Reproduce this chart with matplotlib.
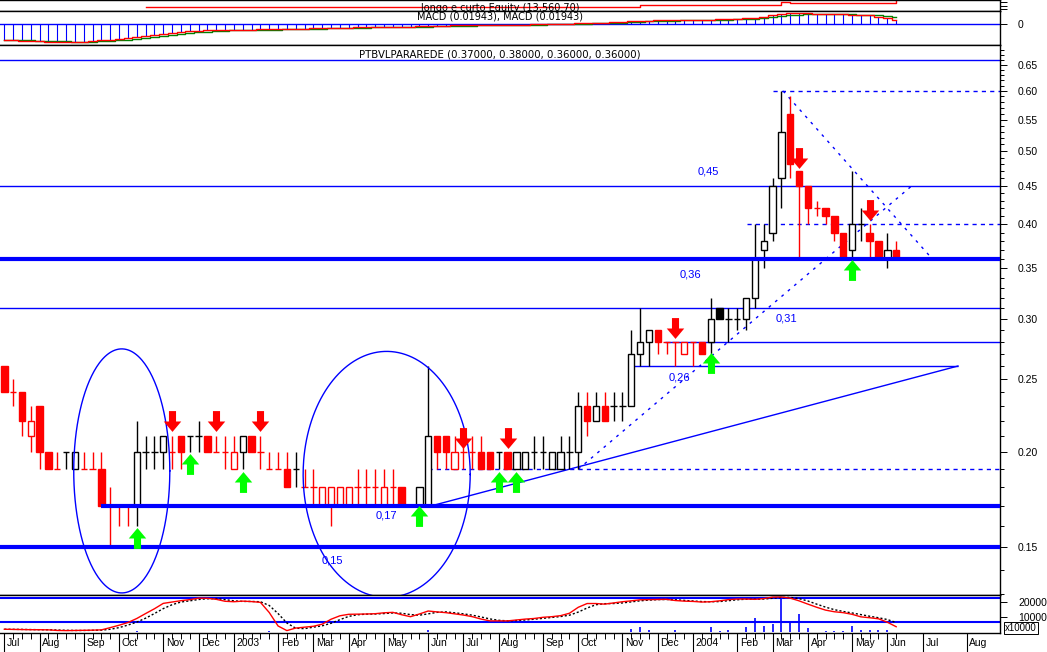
import numpy as np
import matplotlib
matplotlib.use("Agg")
import matplotlib.pyplot as plt
import matplotlib.transforms as mtransforms
from matplotlib.patches import Rectangle
from matplotlib.path import Path

# candles semanais PTBVLPARAREDE, jul/2002 a jun/2004
abertura = [0.26, 0.24, 0.24, 0.21, 0.23, 0.20, 0.19, 0.20, 0.19, 0.19,
            0.19, 0.19, 0.17, 0.17, 0.17, 0.17, 0.20, 0.20, 0.20, 0.20,
            0.21, 0.21, 0.21, 0.21, 0.20, 0.20, 0.19, 0.20, 0.21, 0.20,
            0.19, 0.19, 0.19, 0.19, 0.18, 0.18, 0.17, 0.17, 0.17, 0.17,
            0.18, 0.18, 0.18, 0.17, 0.18, 0.18, 0.17, 0.17, 0.17, 0.21,
            0.21, 0.19, 0.20, 0.20, 0.20, 0.20, 0.20, 0.20, 0.19, 0.19,
            0.20, 0.20, 0.19, 0.19, 0.20, 0.20, 0.23, 0.22, 0.23, 0.23,
            0.23, 0.23, 0.27, 0.28, 0.29, 0.28, 0.28, 0.27, 0.28, 0.28,
            0.28, 0.31, 0.30, 0.30, 0.30, 0.32, 0.37, 0.39, 0.46, 0.56,
            0.47, 0.45, 0.42, 0.42, 0.41, 0.39, 0.37, 0.40, 0.39, 0.38,
            0.36, 0.37]
maxima = [0.26, 0.25, 0.24, 0.23, 0.23, 0.20, 0.20, 0.20, 0.20, 0.20,
          0.20, 0.20, 0.18, 0.17, 0.17, 0.22, 0.21, 0.21, 0.21, 0.21,
          0.21, 0.21, 0.22, 0.21, 0.21, 0.21, 0.21, 0.21, 0.21, 0.21,
          0.20, 0.20, 0.20, 0.20, 0.19, 0.19, 0.18, 0.18, 0.18, 0.18,
          0.19, 0.19, 0.19, 0.19, 0.19, 0.18, 0.17, 0.18, 0.26, 0.21,
          0.21, 0.21, 0.21, 0.21, 0.21, 0.20, 0.20, 0.20, 0.20, 0.20,
          0.21, 0.21, 0.20, 0.21, 0.21, 0.24, 0.24, 0.24, 0.24, 0.24,
          0.24, 0.29, 0.31, 0.29, 0.29, 0.28, 0.28, 0.28, 0.28, 0.28,
          0.32, 0.31, 0.31, 0.31, 0.32, 0.40, 0.40, 0.46, 0.60, 0.59,
          0.47, 0.45, 0.43, 0.42, 0.41, 0.39, 0.47, 0.42, 0.40, 0.38,
          0.39, 0.38]
minima = [0.24, 0.23, 0.21, 0.20, 0.19, 0.19, 0.19, 0.19, 0.19, 0.19,
          0.19, 0.17, 0.15, 0.16, 0.16, 0.16, 0.19, 0.19, 0.19, 0.19,
          0.19, 0.20, 0.20, 0.20, 0.20, 0.19, 0.19, 0.19, 0.20, 0.19,
          0.19, 0.19, 0.18, 0.18, 0.18, 0.17, 0.17, 0.16, 0.17, 0.17,
          0.17, 0.17, 0.17, 0.17, 0.17, 0.17, 0.17, 0.17, 0.17, 0.19,
          0.19, 0.19, 0.19, 0.19, 0.19, 0.19, 0.19, 0.19, 0.19, 0.19,
          0.19, 0.19, 0.19, 0.19, 0.19, 0.19, 0.21, 0.22, 0.22, 0.22,
          0.22, 0.23, 0.26, 0.26, 0.27, 0.27, 0.26, 0.27, 0.26, 0.27,
          0.27, 0.30, 0.28, 0.29, 0.29, 0.31, 0.35, 0.38, 0.42, 0.46,
          0.36, 0.40, 0.41, 0.40, 0.38, 0.36, 0.36, 0.38, 0.36, 0.36,
          0.35, 0.36]
fechamento = [0.24, 0.24, 0.22, 0.22, 0.20, 0.19, 0.19, 0.20, 0.20, 0.19,
              0.19, 0.17, 0.17, 0.17, 0.17, 0.20, 0.20, 0.20, 0.21, 0.20,
              0.20, 0.21, 0.21, 0.20, 0.20, 0.20, 0.20, 0.21, 0.20, 0.20,
              0.19, 0.19, 0.18, 0.19, 0.18, 0.18, 0.18, 0.18, 0.18, 0.18,
              0.18, 0.18, 0.18, 0.18, 0.18, 0.17, 0.17, 0.18, 0.21, 0.20,
              0.20, 0.20, 0.20, 0.20, 0.19, 0.19, 0.20, 0.19, 0.20, 0.20,
              0.20, 0.20, 0.20, 0.20, 0.20, 0.23, 0.22, 0.23, 0.22, 0.23,
              0.23, 0.27, 0.28, 0.29, 0.28, 0.28, 0.28, 0.28, 0.28, 0.27,
              0.30, 0.30, 0.30, 0.30, 0.32, 0.36, 0.38, 0.45, 0.53, 0.48,
              0.45, 0.42, 0.42, 0.41, 0.39, 0.36, 0.40, 0.40, 0.38, 0.36,
              0.37, 0.36]
# R = semana de queda (vermelho), K = semana de alta (preto)
sentido = ("RRRRRRRKKRRRRRRKKKKRRKKRRRRKRRRRRKRRRRRRRRRRRRKKKRRRR"
           "RRRKRKKKKKKKKRKRKKKKKRRRRRRKKKKKKKKKRRRRRRRKKRRKR")

# sinais (semana, preco onde fica a seta)
venda = [(19, 0.220), (24, 0.220), (29, 0.220), (52, 0.209), (57, 0.209),
         (76, 0.292), (90, 0.489), (98, 0.418)]
compra = [(15, 0.154), (21, 0.193), (27, 0.183), (47, 0.165), (56, 0.183),
          (58, 0.183), (80, 0.262), (96, 0.348)]

# eixo de tempo
meses = ["Jul", "Aug", "Sep", "Oct", "Nov", "Dec", "2003", "Feb", "Mar", "Apr",
         "May", "Jun", "Jul", "Aug", "Sep", "Oct", "Nov", "Dec", "2004", "Feb",
         "Mar", "Apr", "May", "Jun", "Jul", "Aug"]
semana_mes = [0, 4, 9, 13, 18, 22, 26, 31, 35, 39, 43, 48, 52, 56, 61, 65,
              70, 74, 78, 83, 87, 91, 96, 100, 104, 109]

# indicador inferior (vermelho) e sua media (preto pontilhado), em milhares
indicador = [1.8, 1.7, 1.6, 1.5, 1.5, 1.4, 1.0, 0.9, 1.0, 1.1, 1.2, 1.4, 2.9, 4.5,
             6.3, 9.0, 12.3, 15.5, 19.1, 20.0, 20.9, 21.6, 22.6, 22.5, 21.8, 20.5,
             20.2, 20.6, 20.3, 19.8, 13.0, 4.0, 0.9, 2.6, 3.2, 3.8, 5.2, 8.5, 10.8,
             11.8, 11.9, 12.0, 12.2, 12.8, 13.1, 11.5, 10.2, 12.0, 14.0, 13.4, 12.9,
             12.1, 11.3, 10.2, 8.6, 7.4, 7.4, 7.4, 8.0, 8.6, 9.0, 9.8, 10.2, 10.9,
             12.5, 16.5, 19.0, 19.0, 18.6, 19.4, 20.2, 20.8, 21.5, 21.6, 21.7, 21.8,
             21.0, 20.6, 20.4, 20.0, 20.2, 20.8, 21.6, 22.0, 22.0, 21.8, 22.3, 23.3,
             23.4, 22.6, 20.8, 18.6, 16.5, 14.6, 13.5, 12.9, 11.8, 10.1, 9.5, 8.8,
             6.5, 3.5]
media_ind = [1.8, 1.75, 1.7, 1.6, 1.5, 1.5, 1.3, 1.1, 1.0, 1.0, 1.1, 1.2, 1.8, 2.9,
             4.6, 6.6, 9.2, 12.3, 15.6, 18.2, 20.0, 20.8, 21.7, 22.2, 22.3, 21.6,
             20.8, 20.4, 20.4, 20.2, 17.7, 12.3, 6.0, 2.5, 2.2, 3.2, 4.1, 5.8, 8.2,
             10.4, 11.5, 11.9, 12.0, 12.3, 12.7, 12.5, 11.6, 11.2, 12.1, 13.1, 13.4,
             12.8, 12.1, 11.2, 10.0, 8.7, 7.8, 7.4, 7.6, 8.0, 8.5, 9.1, 9.7, 10.3,
             11.2, 13.3, 16.0, 18.2, 18.9, 19.0, 19.4, 20.1, 20.8, 21.3, 21.6, 21.7,
             21.5, 21.1, 20.7, 20.3, 20.2, 20.3, 20.9, 21.5, 21.9, 21.9, 22.0, 22.5,
             23.0, 23.1, 22.3, 20.7, 18.6, 16.6, 14.9, 13.7, 12.7, 11.6, 10.5, 9.5,
             8.3, 6.3]
semana_vol = [15, 30, 48, 71, 72, 73, 76, 80, 81, 82, 84, 85, 86, 87, 88, 89, 90,
              91, 93, 94, 95, 96, 97, 98, 99, 100]
volume = [0.6, 0.6, 1.0, 2.0, 3.5, 1.0, 1.0, 3.4, 0.8, 1.2, 3.0, 9.5, 3.7, 5.2,
          23.0, 7.6, 12.0, 2.4, 0.5, 0.5, 0.5, 3.8, 1.0, 1.5, 1.0, 1.5]

# MACD semanal (milesimos) e linha de sinal
macd = [-78, -80, -82, -83, -84, -85, -86, -86, -86, -85, -83, -80, -77, -73,
        -69, -64, -58, -52, -47, -43, -39, -36, -33, -31, -30, -29, -28, -27,
        -27, -26, -26, -25, -24, -23, -22, -21, -20, -19, -18, -17, -16, -15,
        -14, -13, -13, -12, -12, -11, -10, -9, -8, -7, -7, -6, -6, -5, -5, -4,
        -4, -3, -2, -1, 0, 1, 2, 3, 4, 5, 7, 9, 11, 13, 15, 16, 18, 19, 20, 20,
        21, 21, 22, 23, 24, 26, 28, 31, 35, 42, 48, 52, 53, 52, 51, 50, 49, 47,
        46, 45, 42, 36, 28, 19.4]
sinal = [-76, -77, -78, -80, -81, -82, -83, -84, -85, -85, -85, -84, -82, -80,
         -77, -73, -69, -64, -59, -54, -49, -45, -41, -38, -35, -33, -31, -30,
         -29, -28, -27, -27, -26, -25, -24, -23, -22, -21, -20, -19, -18, -17,
         -16, -15, -14, -14, -13, -13, -12, -11, -10, -9, -9, -8, -7, -7, -6,
         -6, -5, -5, -4, -3, -2, -1, 0, 1, 2, 3, 4, 6, 7, 9, 11, 13, 14, 16, 17,
         18, 19, 20, 20, 21, 22, 23, 24, 26, 29, 33, 38, 43, 46, 48, 49, 49, 49,
         48, 47, 46, 45, 42, 38, 33]

# equity do sistema longo e curto
semana_eq = [16, 72, 72, 87, 88, 89, 90, 95, 101]
equity = [10000, 10000, 11130, 11130, 13170, 12600, 12260, 12600, 13560.70]

AZUL = "#0000ff"
VERM = "#ff0000"
W, H = 1047, 652


def caixa(x0, y0, x1, y1):
    return [x0 / W, 1 - y1 / H, (x1 - x0) / W, (y1 - y0) / H]


fig = plt.figure(figsize=(W / 100, H / 100), dpi=100)
fig.patch.set_facecolor("white")
plt.rcParams["font.family"] = ["Liberation Sans", "DejaVu Sans"]

x_ini, x_fim = -0.49, 112.76
semanas = np.arange(len(abertura))

ax_eq = fig.add_axes(caixa(0, 0, 1000, 10.5))
ax_macd = fig.add_axes(caixa(0, 10.5, 1000, 45))
ax = fig.add_axes(caixa(0, 45, 1000, 595))
ax_ind = fig.add_axes(caixa(0, 595, 1000, 633))

for a in (ax_eq, ax_macd, ax, ax_ind):
    a.set_xlim(x_ini, x_fim)
    a.set_facecolor("white")
    a.spines["left"].set_visible(False)
    for s in ("right", "top", "bottom"):
        a.spines[s].set_color("black")
        a.spines[s].set_linewidth(1.0)
    a.yaxis.tick_right()
    a.tick_params(axis="y", which="both", direction="out", colors="black",
                  labelsize=7.5, width=0.7, pad=8)
    a.tick_params(axis="y", which="major", length=5)
    a.tick_params(axis="y", which="minor", length=3)
    a.set_xticks([])

# ---- equity ----
ax_eq.step(semana_eq, equity, where="post", color=VERM, lw=1)
ax_eq.set_ylim(8190, 14130)
ax_eq.set_yticks([9000, 11000, 13000])
ax_eq.set_yticklabels([])
ax_eq.text(0.5, 0.2, "longo e curto Equity (13,560.70)", transform=ax_eq.transAxes,
           ha="center", va="center", fontsize=7, family="Liberation Sans Narrow")

# ---- MACD ----
m = np.array(macd) / 1000
ax_macd.vlines(semanas, 0, m, color=AZUL, lw=0.8)
ax_macd.axhline(0, color=AZUL, lw=1)
ax_macd.step(semanas, np.array(sinal) / 1000, where="mid", color="#008000", lw=1)
ax_macd.step(semanas, m, where="mid", color=VERM, lw=1)
ax_macd.set_ylim(-0.102, 0.066)
ax_macd.set_yticks([0])
ax_macd.set_yticklabels(["0"])
ax_macd.text(0.5, 0.82, "MACD (0.01943), MACD (0.01943)", transform=ax_macd.transAxes,
             ha="center", va="center", fontsize=7, family="Liberation Sans Narrow")

# ---- precos ----
ax.set_yscale("log")
ax.set_ylim(0.1296, 0.690)
ax.yaxis.set_major_locator(matplotlib.ticker.FixedLocator(np.arange(0.15, 0.651, 0.05)))
ax.yaxis.set_minor_locator(matplotlib.ticker.FixedLocator(np.arange(0.13, 0.69, 0.01)))
ax.yaxis.set_major_formatter(matplotlib.ticker.FormatStrFormatter("%.2f"))
ax.yaxis.set_minor_formatter(matplotlib.ticker.NullFormatter())

larg = 0.72
for i in semanas:
    o, h, l, c = abertura[i], maxima[i], minima[i], fechamento[i]
    cor = VERM if sentido[i] == "R" else "black"
    ax.vlines(i, l, h, color=cor, lw=1, zorder=3)
    if c > o:
        ax.add_patch(Rectangle((i - larg / 2, o), larg, c - o, facecolor="white",
                               edgecolor=cor, lw=1, zorder=4))
    elif c < o:
        ax.add_patch(Rectangle((i - larg / 2, c), larg, o - c, facecolor=cor,
                               edgecolor=cor, lw=1, zorder=4))
    else:
        ax.hlines(c, i - larg / 2, i + larg / 2, color=cor, lw=1, zorder=4)

# linhas de suporte / resistencia
ax.axhline(0.66, color=AZUL, lw=1, zorder=2)
ax.axhline(0.36, color=AZUL, lw=3, zorder=5)
ax.axhline(0.15, color=AZUL, lw=3, zorder=5)
ax.hlines(0.17, 10.9, x_fim, color=AZUL, lw=3, zorder=5)
ax.axhline(0.45, color=AZUL, lw=1, zorder=2)
ax.axhline(0.31, color=AZUL, lw=1, zorder=2)
ax.hlines(0.28, 74.8, x_fim, color=AZUL, lw=1, zorder=2)
ax.hlines(0.26, 71.1, 108.0, color=AZUL, lw=1, zorder=2)
ax.hlines(0.40, 84.1, x_fim, color=AZUL, lw=1, ls=(0, (3, 3)), zorder=2)
ax.hlines(0.60, 87.0, x_fim, color=AZUL, lw=1, ls=(0, (3, 3)), zorder=2)
ax.hlines(0.19, 48.0, x_fim, color=AZUL, lw=1, ls=(0, (3, 3)), zorder=2)
ax.plot([48.4, 108.0], [0.17, 0.26], color=AZUL, lw=1, zorder=2)
ax.plot([65.0, 102.8], [0.19, 0.45], color=AZUL, lw=1, ls=(0, (2, 4)), zorder=2)
ax.plot([88.2, 105.1], [0.60, 0.36], color=AZUL, lw=1, ls=(0, (2, 4)), zorder=2)

# elipses desenhadas sobre o grafico (em escala log)
t = np.linspace(0, 2 * np.pi, 300)
for cx, cy, a_, b_ in [(13.3, 0.189, 5.44, 0.371), (43.3, 0.187, 9.46, 0.374)]:
    ax.plot(cx + a_ * np.cos(t), cy * np.exp(b_ * np.sin(t)), color=AZUL, lw=1,
            zorder=6)

# setas de compra e venda
seta = Path([(-0.17, 0.5), (0.17, 0.5), (0.17, 0.0), (0.42, 0.0), (0, -0.5),
             (-0.42, 0.0), (-0.17, 0.0), (-0.17, 0.5)], closed=True)
seta_cima = Path(seta.vertices * [1, -1], closed=True)
ax.scatter([s[0] for s in venda], [s[1] for s in venda], marker=seta, s=15 ** 2,
           color=VERM, lw=0, zorder=8)
ax.scatter([s[0] for s in compra], [s[1] for s in compra], marker=seta_cima,
           s=15 ** 2, color="#00ff00", lw=0, zorder=8)

rotulos = [(79.7, 0.469, "0,45"), (77.7, 0.343, "0,36"), (88.6, 0.30, "0,31"),
           (76.5, 0.251, "0,26"), (43.3, 0.165, "0,17"), (37.2, 0.144, "0,15")]
for x, y, s in rotulos:
    ax.text(x, y, s, color=AZUL, fontsize=8, ha="center", va="center", zorder=7)

ax.text(0.5, 0.983, "PTBVLPARAREDE (0.37000, 0.38000, 0.36000, 0.36000)",
        transform=ax.transAxes, ha="center", va="center", fontsize=7.3,
        family="Liberation Sans Narrow")

# ---- indicador inferior ----
ax_ind.vlines(semana_vol, 0, volume, color=AZUL, lw=1.2)
ax_ind.axhline(22.7, color=AZUL, lw=1.5)
ax_ind.axhline(6.7, color=AZUL, lw=1.5)
ax_ind.plot(semanas, media_ind, color="black", lw=1, ls=(0, (1.5, 1.5)))
ax_ind.plot(semanas, indicador, color=VERM, lw=1)
ax_ind.set_ylim(-0.7, 24.7)
ax_ind.set_yticks([10, 20])
ax_ind.set_yticklabels(["10000", "20000"])
ax_ind.text(1.005, 0.13, "x10000", transform=ax_ind.transAxes, fontsize=7,
            va="center", ha="left",
            bbox=dict(boxstyle="square,pad=0.1", fc="white", ec="black", lw=0.7))

ax_ind.set_xticks(semana_mes)
ax_ind.set_xticks(semanas, minor=True)
ax_ind.tick_params(axis="x", which="major", direction="out", length=14, width=0.8,
                   labelbottom=False)
ax_ind.tick_params(axis="x", which="minor", direction="out", length=4, width=0.7)
trans = mtransforms.blended_transform_factory(ax_ind.transData, ax_ind.transAxes)
for nome, p in zip(meses, semana_mes):
    ax_ind.text(p + 0.3, -0.25, nome, transform=trans, fontsize=7.5, ha="left",
                va="center", clip_on=False)

fig.savefig("out.png", dpi=100, facecolor="white")
